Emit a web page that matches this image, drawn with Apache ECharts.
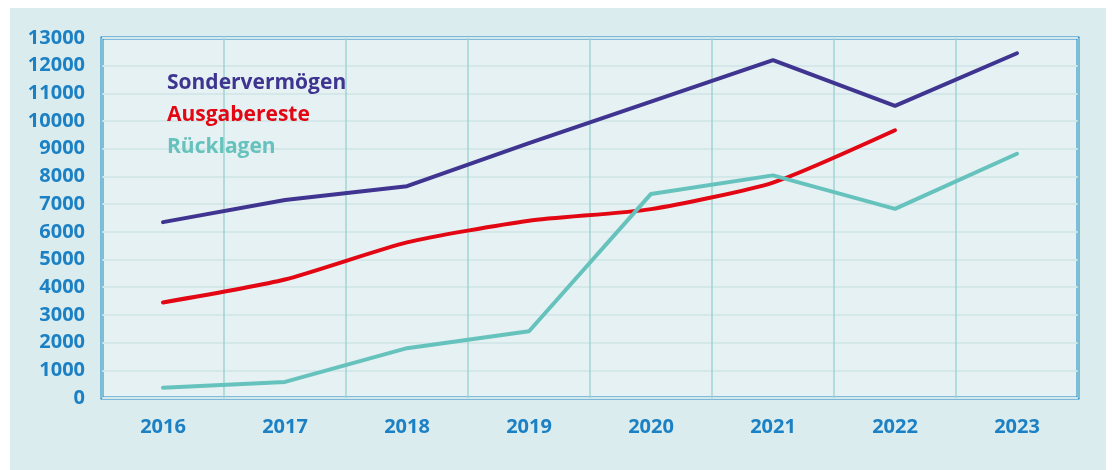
<!DOCTYPE html>
<html>
<head>
<meta charset="utf-8">
<script src="https://cdn.jsdelivr.net/npm/echarts@6/dist/echarts.min.js"></script>
<style>
  html, body { margin: 0; padding: 0; background: #ffffff; }
  #chart { width: 1112px; height: 470px; }
</style>
</head>
<body>
<div id="chart"></div>
<script>
// Jahre und Werte der drei Reihen
const years = ['2016', '2017', '2018', '2019', '2020', '2021', '2022', '2023'];
const sondervermoegen = [6350, 7150, 7650, 9200, 10700, 12200, 10550, 12450];
const ausgabereste    = [3450, 4280, 5620, 6400, 6820, 7780, 9670, null];
const ruecklagen      = [370, 580, 1800, 2410, 7370, 8040, 6830, 8820];

const blue = '#1b80c4';
const font = '"Open Sans", "Noto Sans", sans-serif';

const chart = echarts.init(document.getElementById('chart'), null, { renderer: 'canvas' });

chart.setOption({
  backgroundColor: '#ffffff',
  animation: false,
  graphic: [{
    type: 'rect',
    z: -10,
    silent: true,
    shape: { x: 10, y: 8, width: 1096, height: 470 },
    style: { fill: '#daecee' }
  }],
  legend: {
    orient: 'vertical',
    left: 157,
    top: 68,
    itemGap: 11,
    itemWidth: 0,
    itemHeight: 0,
    icon: 'none',
    selectedMode: false,
    textStyle: { fontFamily: font, fontWeight: 'bold', fontSize: 21 },
    data: [
      { name: 'Sondervermögen', textStyle: { color: '#3f3590' } },
      { name: 'Ausgabereste', textStyle: { color: '#e30613' } },
      { name: 'Rücklagen', textStyle: { color: '#66c2bc' } }
    ]
  },
  grid: {
    left: 102,
    right: 34,
    top: 38,
    bottom: 72,
    show: true,
    backgroundColor: '#e5f1f3',
    borderColor: '#1a84cc',
    borderWidth: 3
  },
  xAxis: {
    type: 'category',
    data: years,
    boundaryGap: true,
    axisLine: { show: false },
    axisTick: { show: false },
    axisLabel: {
      color: blue, fontFamily: font, fontWeight: 'bold', fontSize: 20, margin: 19
    },
    splitLine: { show: true, lineStyle: { color: '#9fd4d0', width: 1.5 } }
  },
  yAxis: {
    type: 'value',
    min: 0,
    max: 13000,
    interval: 1000,
    axisLine: { show: false },
    axisTick: { show: false },
    axisLabel: {
      color: blue, fontFamily: font, fontWeight: 'bold', fontSize: 20, margin: 17,
      formatter: (v) => String(v)
    },
    splitLine: { show: true, lineStyle: { color: '#d4e8ea', width: 2 } }
  },
  series: [
    {
      name: 'Sondervermögen',
      type: 'line',
      data: sondervermoegen,
      symbol: 'none',
      lineStyle: { color: '#3f3590', width: 4, cap: 'round' },
      itemStyle: { color: '#3f3590' },
      z: 3
    },
    {
      name: 'Ausgabereste',
      type: 'line',
      data: ausgabereste,
      symbol: 'none',
      smooth: 0.2,
      lineStyle: { color: '#e30613', width: 4, cap: 'round' },
      itemStyle: { color: '#e30613' },
      z: 2
    },
    {
      name: 'Rücklagen',
      type: 'line',
      data: ruecklagen,
      symbol: 'none',
      lineStyle: { color: '#66c2bc', width: 4, cap: 'round' },
      itemStyle: { color: '#66c2bc' },
      z: 4
    }
  ]
});
</script>
</body>
</html>
